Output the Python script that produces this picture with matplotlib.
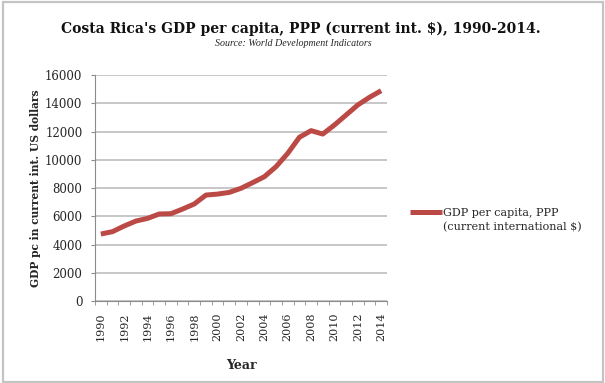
import matplotlib
matplotlib.use("Agg")
import matplotlib.pyplot as plt
from matplotlib.patches import Rectangle
from matplotlib.lines import Line2D
from matplotlib import ticker as mticker

years = list(range(1990, 2015))
gdp_pc = [4740, 4910, 5310, 5660, 5850, 6160, 6180, 6510, 6870, 7500,
          7570, 7690, 7980, 8380, 8800, 9510, 10450, 11590, 12060, 11820,
          12460, 13170, 13880, 14420, 14890]
yticks = [0, 2000, 4000, 6000, 8000, 10000, 12000, 14000, 16000]

title = "Costa Rica's GDP per capita, PPP (current int. $), 1990-2014."
subtitle = "Source: World Development Indicators"
series_name = ["GDP per capita, PPP", "(current international $)"]

linecolor = '#bb4a47'
gridcolor = '#bdbdbd'
textcolor = '#262626'

plt.rcParams['font.family'] = ['DejaVu Serif']

fig = plt.figure(figsize=(6.05, 3.83), dpi=100, facecolor='white')
ax = fig.add_axes([95/605, 1-301/383, 292/605, 226/383])

x = list(range(len(years)))
line, = ax.plot(x, gdp_pc, color=linecolor, lw=3.6, solid_capstyle='butt')

ax.set_xlim(-0.5, len(years) - 0.5)
ax.set_ylim(0, 16000)
ax.set_yticks(yticks)
ax.yaxis.grid(True, color=gridcolor, lw=1.2)
ax.set_axisbelow(True)

# category labels every two years, tick marks between categories
ax.set_xticks(x[::2])
ax.set_xticklabels([str(y) for y in years[::2]], rotation=90)
ax.xaxis.set_minor_locator(mticker.FixedLocator([i - 0.5 for i in range(len(years) + 1)]))
ax.tick_params(axis='x', which='major', length=0, pad=8, labelsize=8, colors=textcolor)
ax.tick_params(axis='x', which='minor', length=3, color='#8c8c8c')
ax.tick_params(axis='y', length=3, color='#8c8c8c', pad=6, labelsize=8.5, labelcolor=textcolor)

for s in ['top', 'right']:
    ax.spines[s].set_visible(False)
ax.spines['left'].set_color('#8c8c8c')
ax.spines['bottom'].set_color('#8c8c8c')

ax.set_ylabel("GDP pc in current int. US dollars", fontsize=7.7,
              fontweight='bold', color=textcolor, labelpad=3)
ax.set_xlabel("Year", fontsize=9, fontweight='bold', color=textcolor, labelpad=13)

fig.text(0.497, 1-29/383, title, ha='center', va='center', fontsize=10,
         fontweight='bold', color='#111111')
fig.text(293/605, 1-44/383, subtitle, ha='center', va='center', fontsize=7.2,
         style='italic', color=textcolor, family='Liberation Serif')

# legend: series line next to the first text row, second row without handle
blank = Line2D([], [], color='none')
leg = fig.legend([line, blank], series_name, loc='center left',
                 bbox_to_anchor=(410/605, 1-220/383), frameon=False,
                 fontsize=8, handlelength=2.9, handletextpad=0.05,
                 labelspacing=0.35, borderpad=0, borderaxespad=0)
for t in leg.get_texts():
    t.set_color(textcolor)

fig.add_artist(Rectangle((3/605, 1/383), 600/605, 380/383, transform=fig.transFigure,
                         fill=False, edgecolor='#c4c4c4', lw=1.6))

fig.savefig('out.png', dpi=100, facecolor='white')
